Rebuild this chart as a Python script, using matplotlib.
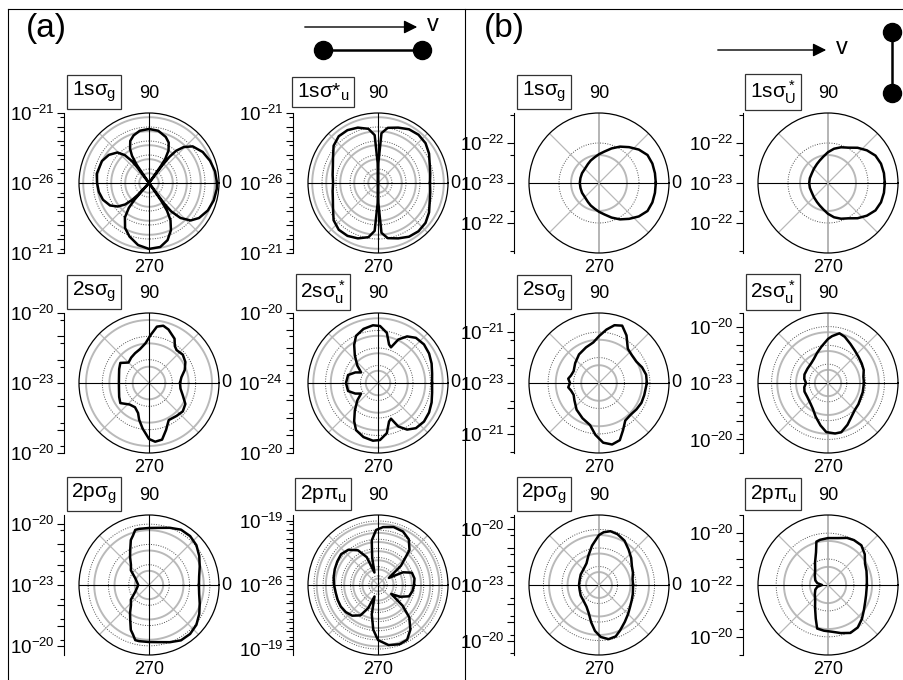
import numpy as np
import matplotlib
matplotlib.use('Agg')
import matplotlib.pyplot as plt
from matplotlib.ticker import FuncFormatter

plt.rcParams['font.family'] = ['Liberation Sans', 'DejaVu Sans']
plt.rcParams['mathtext.fontset'] = 'custom'
plt.rcParams['mathtext.rm'] = 'Liberation Sans'
plt.rcParams['mathtext.it'] = 'Liberation Sans'
plt.rcParams['mathtext.bf'] = 'Liberation Sans:bold'

# emission angle (deg) and log10 of the cross section for each orbital
# (a) molecular axis parallel to v
ang_a_1sg = [0, 10, 20, 30, 40, 46, 50, 52, 53, 54, 55, 56, 59, 64, 70, 80, 90, 100, 108, 114, 119, 122, 124,
             126, 127, 128, 131, 136, 145, 155, 170, 180, 190, 200, 210, 217, 222, 225, 227, 228, 229, 231,
             235, 242, 250, 260, 270, 280, 288, 295, 300, 303, 304.5, 305.5, 306.5, 308, 312, 318, 325, 335,
             345, 355]
log_a_1sg = [-21.14, -21.21, -21.36, -21.57, -21.93, -22.43, -23.00, -23.64, -24.43, -26, -24.57, -23.93,
             -23.29, -22.79, -22.50, -22.21, -22.14, -22.21, -22.43, -22.71, -23.21, -23.71, -24.43, -26,
             -24.57, -24.00, -23.36, -22.86, -22.50, -22.29, -22.21, -22.29, -22.36, -22.50, -22.79, -23.21,
             -23.71, -24.29, -24.86, -26, -24.43, -23.71, -23.00, -22.36, -21.93, -21.50, -21.29, -21.36,
             -21.71, -22.29, -22.93, -23.64, -24.43, -26, -24.21, -23.43, -22.64, -22.00, -21.64, -21.36,
             -21.21, -21.14]

ang_a_1su = [0, 10, 20, 30, 40, 50, 60, 70, 80, 86, 89, 90, 91, 94, 100, 110, 120, 130, 140, 150, 160, 170,
             180, 190, 200, 210, 220, 230, 240, 250, 260, 266, 269, 270, 271, 274, 280, 290, 300, 310, 320,
             330, 340, 350]
log_a_1su = [-22.29, -22.21, -22.07, -21.79, -21.57, -21.50, -21.57, -21.79, -22.00, -22.43, -24.57, -26.0,
             -24.57, -22.57, -22.07, -21.79, -21.64, -21.64, -21.86, -22.29, -22.57, -22.71, -22.79, -22.71,
             -22.57, -22.29, -21.86, -21.64, -21.64, -21.79, -22.07, -22.57, -24.57, -26.0, -24.57, -22.43,
             -22.00, -21.79, -21.57, -21.50, -21.57, -21.79, -22.07, -22.21]

ang_a_2sg = [0, 10, 20, 30, 40, 50, 55, 60, 70, 76, 82, 88, 95, 105, 115, 125, 135, 145, 155, 165, 180, 195,
             205, 215, 228, 240, 250, 255, 262, 270, 276, 283, 290, 298, 310, 320, 330, 340, 350]
log_a_2sg = [-21.67, -21.59, -21.37, -21.20, -21.11, -21.16, -21.07, -20.81, -20.56, -20.47, -20.56, -20.94,
             -21.29, -21.50, -21.59, -21.67, -21.76, -21.50, -21.59, -21.67, -21.71, -21.67, -21.59, -21.50,
             -21.76, -21.80, -21.63, -21.37, -21.03, -20.60, -20.47, -20.51, -20.86, -21.20, -21.16, -21.11,
             -21.20, -21.46, -21.63]

ang_a_2su = [0, 10, 20, 30, 40, 50, 58, 65, 70, 74, 80, 88, 95, 105, 115, 122, 130, 140, 148, 155, 165, 180,
             195, 205, 212, 220, 230, 238, 245, 255, 265, 272, 280, 286, 290, 295, 302, 310, 320, 330, 340, 350]
log_a_2su = [-20.91, -20.86, -20.74, -20.63, -20.57, -20.63, -20.86, -21.26, -21.83, -21.71, -21.09, -20.74,
             -20.69, -20.80, -21.03, -21.43, -21.94, -22.46, -22.86, -22.57, -22.23, -22.17, -22.23, -22.57,
             -22.86, -22.46, -21.94, -21.43, -21.03, -20.80, -20.69, -20.74, -21.09, -21.71, -21.83, -21.26,
             -20.86, -20.63, -20.57, -20.63, -20.74, -20.86]

ang_a_2pg = [0, 10, 20, 30, 40, 50, 60, 70, 80, 90, 100, 104, 108, 112, 118, 124, 132, 141, 153, 165, 180,
             195, 207, 219, 228, 236, 242, 248, 252, 256, 260, 270, 280, 290, 300, 310, 320, 330, 340, 350]
log_a_2pg = [-20.54, -20.49, -20.34, -20.14, -19.95, -19.85, -19.85, -20.00, -20.14, -20.19, -20.19, -20.20,
             -20.44, -20.61, -21.03, -21.33, -21.67, -21.85, -22.23, -22.38, -22.47, -22.38, -22.23, -21.85,
             -21.67, -21.33, -21.03, -20.61, -20.44, -20.20, -20.19, -20.19, -20.14, -20.00, -19.85, -19.85,
             -19.95, -20.14, -20.34, -20.49]

ang_a_2pu = [0, 10, 20, 27, 33, 40, 48, 56, 65, 75, 85, 92, 98, 102, 106, 112, 120, 130, 140, 150, 160, 170,
             180, 190, 200, 210, 220, 230, 240, 247, 253, 258, 264, 270, 280, 290, 298, 306, 314, 320, 326,
             332, 340, 350]
log_a_2pu = [-22.06, -21.95, -22.06, -22.94, -24.58, -22.72, -20.86, -19.98, -19.55, -19.44, -19.65, -19.98,
             -21.08, -22.94, -24.58, -22.72, -21.62, -20.97, -20.75, -20.86, -20.97, -21.08, -21.19, -21.30,
             -21.30, -21.30, -21.40, -21.62, -22.17, -23.26, -24.69, -22.72, -21.08, -19.98, -19.33, -19.11,
             -19.22, -19.98, -21.08, -22.50, -24.25, -23.26, -22.39, -22.17]

# (b) molecular axis perpendicular to v
ang_b_1s = [0, 10, 20, 30, 40, 50, 60, 70, 80, 90, 100, 110, 120, 135, 150, 165, 180, 195, 210, 225, 240,
            250, 260, 270, 280, 290, 300, 310, 320, 330, 340, 350]
log_b_1sg = [-21.58, -21.58, -21.58, -21.60, -21.70, -21.83, -21.95, -22.08, -22.20, -22.28, -22.35, -22.40,
             -22.45, -22.50, -22.51, -22.52, -22.52, -22.52, -22.51, -22.50, -22.45, -22.40, -22.35, -22.28,
             -22.20, -22.08, -21.95, -21.83, -21.70, -21.60, -21.58, -21.58]
log_b_1su = [-21.58, -21.58, -21.59, -21.63, -21.73, -21.85, -21.98, -22.05, -22.13, -22.23, -22.33, -22.40,
             -22.45, -22.50, -22.53, -22.53, -22.53, -22.53, -22.53, -22.50, -22.45, -22.40, -22.33, -22.23,
             -22.13, -22.05, -21.98, -21.85, -21.73, -21.63, -21.59, -21.58]

ang_b_2sg = [0, 10, 20, 30, 40, 50, 60, 68, 75, 82, 90, 98, 110, 125, 140, 155, 165, 172, 180, 188, 195,
             205, 215, 230, 245, 258, 266, 274, 282, 290, 297, 305, 315, 325, 335, 345]
log_b_2sg = [-21.12, -21.12, -21.20, -21.31, -21.31, -21.24, -20.84, -20.57, -20.65, -20.88, -21.16, -21.39,
             -21.51, -21.63, -21.78, -21.90, -21.86, -21.78, -21.86, -21.78, -21.86, -21.90, -21.82, -21.63,
             -21.47, -21.31, -20.96, -20.65, -20.53, -20.61, -20.92, -21.20, -21.24, -21.20, -21.16, -21.16]

ang_b_2su = [0, 10, 20, 30, 40, 50, 60, 70, 77, 85, 90, 100, 110, 120, 130, 145, 160, 170, 180, 190, 200,
             215, 230, 240, 250, 260, 268, 278, 285, 295, 305, 315, 325, 335, 345]
log_b_2su = [-21.09, -21.09, -20.98, -20.93, -20.87, -20.77, -20.61, -20.39, -20.29, -20.50, -20.66, -21.03,
             -21.30, -21.51, -21.62, -21.67, -21.67, -21.72, -21.83, -21.72, -21.67, -21.67, -21.56, -21.40,
             -21.09, -20.71, -20.39, -20.29, -20.29, -20.55, -20.82, -20.98, -21.03, -21.09, -21.09]

ang_b_2pg = [0, 10, 20, 30, 40, 50, 60, 70, 78, 85, 90, 100, 110, 120, 135, 150, 165, 180, 195, 210, 225,
             240, 250, 258, 265, 272, 280, 288, 295, 305, 315, 325, 335, 345]
log_b_2pg = [-21.16, -21.16, -21.05, -20.95, -20.73, -20.51, -20.24, -20.08, -20.03, -20.14, -20.30, -20.84,
             -21.32, -21.65, -21.81, -21.86, -21.92, -21.92, -21.92, -21.86, -21.81, -21.65, -21.38, -20.95,
             -20.51, -20.19, -20.03, -20.08, -20.30, -20.57, -20.78, -20.95, -21.05, -21.11]

ang_b_2pu = [0, 10, 20, 30, 40, 50, 60, 68, 78, 90, 100, 105, 110, 120, 130, 145, 160, 170, 180, 190, 200,
             215, 230, 240, 250, 256, 265, 275, 285, 295, 305, 315, 325, 335, 345]
log_b_2pu = [-20.50, -20.48, -20.42, -20.35, -20.15, -20.00, -20.00, -20.04, -20.15, -20.19, -20.23, -20.27,
             -20.65, -21.00, -21.23, -21.38, -21.48, -21.58, -21.77, -21.58, -21.48, -21.38, -21.23, -21.00,
             -20.62, -20.27, -20.23, -20.19, -20.08, -19.96, -20.00, -20.15, -20.31, -20.42, -20.48]

# orbital names, radial range (centre, rim) and the labelled decade
names = ['1s$\\sigma_\\mathregular{g}$', '1s$\\sigma$*$_\\mathregular{u}$',
         '2s$\\sigma_\\mathregular{g}$', '2s$\\sigma^*_\\mathregular{u}$',
         '2p$\\sigma_\\mathregular{g}$', '2p$\\pi_\\mathregular{u}$',
         '1s$\\sigma_\\mathregular{g}$', '1s$\\sigma^*_\\mathregular{U}$',
         '2s$\\sigma_\\mathregular{g}$', '2s$\\sigma^*_\\mathregular{u}$',
         '2p$\\sigma_\\mathregular{g}$', '2p$\\pi_\\mathregular{u}$']
centre_exp = [-26, -26, -23, -24, -23, -26, -23, -23, -23, -23, -23, -22]
rim_exp = [-21, -21, -20, -20, -19.55, -18.35, -21.25, -21.25, -20.25, -19.28, -19.22, -19.3]
label_exp = [-21, -21, -20, -20, -20, -19, -22, -22, -21, -20, -20, -20]

curves = [(ang_a_1sg, log_a_1sg), (ang_a_1su, log_a_1su), (ang_a_2sg, log_a_2sg),
          (ang_a_2su, log_a_2su), (ang_a_2pg, log_a_2pg), (ang_a_2pu, log_a_2pu),
          (ang_b_1s, log_b_1sg), (ang_b_1s, log_b_1su), (ang_b_2sg, log_b_2sg),
          (ang_b_2su, log_b_2su), (ang_b_2pg, log_b_2pg), (ang_b_2pu, log_b_2pu)]

# layout in pixels
W, H = 904, 680
R = 70
col_x = [149, 378, 599, 828]
row_y = [183, 383, 585]
centres = [(col_x[0], row_y[0]), (col_x[1], row_y[0]), (col_x[0], row_y[1]), (col_x[1], row_y[1]),
           (col_x[0], row_y[2]), (col_x[1], row_y[2]),
           (col_x[2], row_y[0]), (col_x[3], row_y[0]), (col_x[2], row_y[1]), (col_x[3], row_y[1]),
           (col_x[2], row_y[2]), (col_x[3], row_y[2])]

fig = plt.figure(figsize=(W / 100, H / 100), dpi=100)

deco = fig.add_axes([0, 0, 1, 1])
deco.set_xlim(0, W)
deco.set_ylim(H, 0)
deco.axis('off')

# panel frames
deco.plot([8, 8], [9, H], color='k', lw=0.8)
deco.plot([8, W], [9, 9], color='k', lw=0.8)
deco.plot([465, 465], [9, H], color='k', lw=0.8)
deco.text(26, 29, '(a)', fontsize=24, va='center', ha='left')
deco.text(484, 29, '(b)', fontsize=24, va='center', ha='left')

# velocity arrows and molecule orientation
deco.annotate('', xy=(420, 27), xytext=(302, 27),
              arrowprops=dict(arrowstyle='-|>', color='k', lw=1.0, mutation_scale=20))
deco.text(427, 25, 'v', fontsize=17, va='center', ha='left')
deco.plot([323, 422], [50, 50], color='k', lw=1.8)
deco.plot([323, 422], [50, 50], 'o', color='k', ms=13)
deco.annotate('', xy=(829, 50), xytext=(715, 50),
              arrowprops=dict(arrowstyle='-|>', color='k', lw=1.0, mutation_scale=20))
deco.text(836, 48, 'v', fontsize=17, va='center', ha='left')
deco.plot([892, 892], [32, 93], color='k', lw=1.8)
deco.plot([892, 892], [32, 93], 'o', color='k', ms=13)


def draw_panel(ang, logs, name, c, o, lab, cx, cy, vcol, show_zero):
    ax = fig.add_axes([(cx - R) / W, 1 - (cy + R) / H, 2 * R / W, 2 * R / H], projection='polar')
    ax.set_rlim(c, o)
    ax.set_xticks([])
    ax.set_yticks([])
    ax.grid(False)
    ax.spines['polar'].set_linewidth(0.9)

    # rings at 1x and 5x each decade
    full = np.linspace(0, 2 * np.pi, 400)
    for n in range(int(np.floor(c)), int(np.ceil(o)) + 1):
        v1 = n
        v5 = n + np.log10(5)
        if c + 0.05 < v5 < o - 0.1:
            ax.plot(full, np.full_like(full, v5), color='#b9b9b9', lw=1.4, zorder=1)
        if c + 0.05 < v1 < o - 0.1:
            ax.plot(full, np.full_like(full, v1), color='#505050', lw=0.7, ls=(0, (1, 1.5)), zorder=1)

    for t in (45, 135, 225, 315):
        ax.plot([np.radians(t)] * 2, [c, o], color='#b9b9b9', lw=0.9, zorder=1)
    ax.plot([0, 0], [c, o], color='k', lw=0.8, zorder=2)
    ax.plot([np.pi, np.pi], [c, o], color='k', lw=0.8, zorder=2)
    vw = 0.8 if vcol == 'k' else 1.2
    ax.plot([np.pi / 2] * 2, [c, o], color=vcol, lw=vw, zorder=2)
    ax.plot([3 * np.pi / 2] * 2, [c, o], color=vcol, lw=vw, zorder=2)

    th = np.radians(list(ang) + [ang[0]])
    rr = list(logs) + [logs[0]]
    ax.plot(th, rr, color='k', lw=1.8, zorder=3)

    ax.text(0.5, 1 + 19 / (2 * R), '90', transform=ax.transAxes, ha='center', va='center', fontsize=13)
    if show_zero:
        ax.text(1 + 7 / (2 * R), 0.5, '0', transform=ax.transAxes, ha='center', va='center', fontsize=13)
    ax.text(0.5, 0.5 - 85 / (2 * R), '270', transform=ax.transAxes, ha='center', va='center', fontsize=13)
    ax.text((R - 55) / (2 * R), 0.5 + 91 / (2 * R), name, transform=ax.transAxes, ha='center',
            va='center', fontsize=15,
            bbox=dict(boxstyle='square,pad=0.22', fc='white', ec='#333333', lw=0.9))

    # mirrored log axis on the left
    span = o - c
    lax = fig.add_axes([(cx - 85) / W, 1 - (cy + R) / H, 1e-4, 2 * R / H])
    lax.patch.set_visible(False)
    lax.set_ylim(-span, span)
    for s in ('top', 'right', 'bottom'):
        lax.spines[s].set_visible(False)
    lax.spines['left'].set_linewidth(0.8)
    lax.set_xticks([])
    kmax = int(np.floor(span))
    lax.set_yticks(np.arange(-kmax, kmax + 1))
    fives = []
    for k in range(kmax + 1):
        v = k + np.log10(5)
        if v < span:
            fives += [v, -v]
    lax.set_yticks(fives, minor=True)

    def fmt(y, pos):
        if abs(y) < 1e-6 or abs(abs(y) - (lab - c)) < 1e-6:
            return '$\\mathregular{10^{%d}}$' % round(c + abs(y))
        return ''
    lax.yaxis.set_major_formatter(FuncFormatter(fmt))
    lax.tick_params(axis='y', which='major', direction='out', length=5, width=0.8, labelsize=13.5, pad=2)
    lax.tick_params(axis='y', which='minor', direction='out', length=3, width=0.8)


for i in range(12):
    ang, logs = curves[i]
    cx, cy = centres[i]
    draw_panel(ang, logs, names[i], centre_exp[i], rim_exp[i], label_exp[i], cx, cy,
               'k' if i < 6 else '#a8a8a8', cx + R + 15 < W)

fig.savefig('out.png', dpi=100)
